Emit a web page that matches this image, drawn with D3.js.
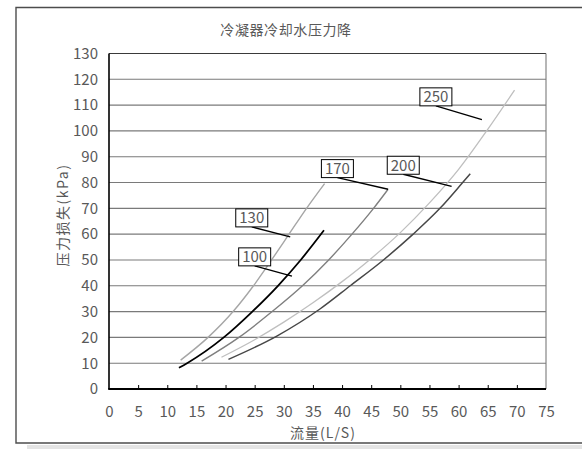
<!DOCTYPE html>
<html>
<head>
<meta charset="utf-8">
<script src="https://cdn.jsdelivr.net/npm/d3@7"></script>
<style>
    html, body { margin: 0; padding: 0; background: #fff; }
    svg { display: block; }
    text { font-family: "Noto Sans CJK SC", "Noto Sans", sans-serif; fill: #595959; }
</style>
</head>
<body>
<script>
(function() {
    'use strict';

    // chart data
    let title = "冷凝器冷却水压力降";
    let xTitle = "流量(L/S)";
    let yTitle = "压力损失(kPa)";
    let xTicks = [0, 5, 10, 15, 20, 25, 30, 35, 40, 45, 50, 55, 60, 65, 70, 75];
    let yTicks = [0, 10, 20, 30, 40, 50, 60, 70, 80, 90, 100, 110, 120, 130];

    let seriesNames = ["100", "130", "170", "200", "250"];
    let flow100 = [12.0, 13.4, 19.7, 24.6, 29.0, 32.9, 36.9];
    let loss100 = [8.2, 10, 20, 30, 40, 50, 61.5];
    let flow130 = [12.3, 17.0, 21.3, 24.8, 27.9, 30.9, 33.9, 37.0];
    let loss130 = [11.2, 20, 30, 40, 50, 60, 70, 79.6];
    let flow170 = [15.9, 22.3, 28.0, 33.2, 37.7, 41.7, 45.4, 47.9];
    let loss170 = [10.8, 20, 30, 40, 50, 60, 70, 77.4];
    let flow200 = [20.5, 28.8, 36.2, 41.4, 47.1, 52.2, 56.8, 60.7, 62.0];
    let loss200 = [11.5, 20.5, 31, 40, 50, 60, 70, 80, 83.4];
    let flow250 = [19.3, 25, 30, 35, 40, 45, 50, 55, 60, 65, 69.6];
    let loss250 = [12.3, 19.1, 25.9, 33.4, 41.6, 50.6, 60.6, 72.1, 85.1, 100.6, 115.8];

    let width = 582;
    let height = 449;
    let plot = { left: 109, right: 546, top: 53.5, bottom: 389 };

    // line look per series
    let seriesStyle = {
        "100": { color: "#000000", width: 1.8 },
        "130": { color: "#a6a6a6", width: 1.4 },
        "170": { color: "#7f7f7f", width: 1.4 },
        "200": { color: "#474747", width: 1.5 },
        "250": { color: "#bfbfbf", width: 1.3 }
    };

    // label boxes and leader ends, in data units
    let callouts = [
        { name: "100", bx: 25.0, by: 51.2, px: 31.4, py: 43.7 },
        { name: "130", bx: 24.5, by: 66.3, px: 31.1, py: 58.9 },
        { name: "170", bx: 39.2, by: 85.4, px: 47.9, py: 77.4 },
        { name: "200", bx: 50.5, by: 86.7, px: 58.8, py: 78.5 },
        { name: "250", bx: 56.1, by: 113.2, px: 64.0, py: 104.4 }
    ];

    function zip(xs, ys) {
        return xs.map(function(x, i) { return [x, ys[i]]; });
    }

    let seriesData = {
        "100": zip(flow100, loss100),
        "130": zip(flow130, loss130),
        "170": zip(flow170, loss170),
        "200": zip(flow200, loss200),
        "250": zip(flow250, loss250)
    };

    function init() {
        let svg = d3.select("body").append("svg")
            .attr("width", width)
            .attr("height", height);

        // outer chart frame
        svg.append("rect")
            .attr("x", 27).attr("y", 445)
            .attr("width", width - 27).attr("height", 4)
            .attr("fill", "#e4e4e4");
        svg.append("path")
            .attr("d", "M" + width + ",7.5H16V443H" + width)
            .attr("fill", "none")
            .attr("stroke", "#4d4d4d")
            .attr("stroke-width", 1.4);

        let x = d3.scaleLinear().domain([0, 75]).range([plot.left, plot.right]);
        let y = d3.scaleLinear().domain([0, 130]).range([plot.bottom, plot.top]);

        // horizontal grid
        svg.append("g")
            .selectAll("line")
            .data(yTicks.filter(function(d) { return d > 0; }))
            .enter()
            .append("line")
            .attr("x1", plot.left).attr("x2", plot.right)
            .attr("y1", function(d) { return y(d); })
            .attr("y2", function(d) { return y(d); })
            .attr("stroke", function(d) { return d === 130 ? "#3a3a3a" : "#7a7a7a"; })
            .attr("stroke-width", 1.1);

        svg.append("line")
            .attr("x1", plot.right).attr("x2", plot.right)
            .attr("y1", plot.top).attr("y2", plot.bottom)
            .attr("stroke", "#7a7a7a")
            .attr("stroke-width", 1.1);

        // y axis labels
        let yAxis = d3.axisLeft(y).tickValues(yTicks).tickSize(0).tickPadding(10);
        let gy = svg.append("g")
            .attr("transform", "translate(" + plot.left + ",0)")
            .call(yAxis);
        gy.select(".domain").remove();
        gy.selectAll("text")
            .attr("x", 98 - plot.left)
            .style("font-size", "15px")
            .style("font-family", "\"Noto Sans CJK SC\", sans-serif")
            .attr("fill", "#595959");

        // x axis with inward ticks
        let xAxis = d3.axisBottom(x).tickValues(xTicks).tickSizeInner(-4).tickSizeOuter(0).tickPadding(14);
        let gx = svg.append("g")
            .attr("transform", "translate(0," + plot.bottom + ")")
            .call(xAxis);
        gx.select(".domain").remove();
        gx.selectAll(".tick line")
            .attr("stroke", "#000")
            .attr("stroke-width", 1)
            .filter(function(d) { return d === 0 || d === 75; })
            .remove();
        gx.selectAll("text")
            .attr("y", 0)
            .attr("dy", 0)
            .attr("transform", "translate(0,27.5)")
            .style("font-size", "15px")
            .style("font-family", "\"Noto Sans CJK SC\", sans-serif")
            .attr("fill", "#595959");

        // axis lines
        svg.append("line")
            .attr("x1", plot.left).attr("x2", plot.left)
            .attr("y1", plot.top).attr("y2", plot.bottom)
            .attr("stroke", "#000").attr("stroke-width", 1.6);
        svg.append("line")
            .attr("x1", plot.left - 0.8).attr("x2", plot.right)
            .attr("y1", plot.bottom).attr("y2", plot.bottom)
            .attr("stroke", "#000").attr("stroke-width", 2);

        // series curves
        let line = d3.line()
            .x(function(d) { return x(d[0]); })
            .y(function(d) { return y(d[1]); })
            .curve(d3.curveMonotoneX);

        svg.append("g")
            .selectAll("path")
            .data(seriesNames)
            .enter()
            .append("path")
            .attr("d", function(name) { return line(seriesData[name]); })
            .attr("fill", "none")
            .attr("stroke", function(name) { return seriesStyle[name].color; })
            .attr("stroke-width", function(name) { return seriesStyle[name].width; });

        // callout labels
        let boxW = 32, boxH = 18;
        let callout = svg.append("g")
            .selectAll("g")
            .data(callouts)
            .enter()
            .append("g");

        callout.append("line")
            .attr("x1", function(d) { return x(d.bx); })
            .attr("y1", function(d) { return y(d.by) + boxH / 2; })
            .attr("x2", function(d) { return x(d.px); })
            .attr("y2", function(d) { return y(d.py); })
            .attr("stroke", "#000")
            .attr("stroke-width", 1.3);

        callout.append("rect")
            .attr("x", function(d) { return x(d.bx) - boxW / 2; })
            .attr("y", function(d) { return y(d.by) - boxH / 2; })
            .attr("width", boxW)
            .attr("height", boxH)
            .attr("fill", "#fff")
            .attr("stroke", "#000")
            .attr("stroke-width", 1);

        callout.append("text")
            .attr("x", function(d) { return x(d.bx); })
            .attr("y", function(d) { return y(d.by) + 5.5; })
            .attr("text-anchor", "middle")
            .style("font-size", "15px")
            .text(function(d) { return d.name; });

        // titles
        svg.append("text")
            .attr("x", 286).attr("y", 35)
            .attr("text-anchor", "middle")
            .style("font-size", "14px")
            .style("letter-spacing", "0.6px")
            .text(title);

        svg.append("text")
            .attr("transform", "translate(" + 63 + "," + 215 + ")rotate(-90)")
            .attr("text-anchor", "middle")
            .attr("dy", "0.35em")
            .style("font-size", "14px")
            .style("letter-spacing", "1.5px")
            .text(yTitle);

        svg.append("text")
            .attr("x", 323).attr("y", 438)
            .attr("text-anchor", "middle")
            .style("font-size", "14px")
            .style("letter-spacing", "1px")
            .text(xTitle);
    }

    window.onload = init;
})();
</script>
</body>
</html>
